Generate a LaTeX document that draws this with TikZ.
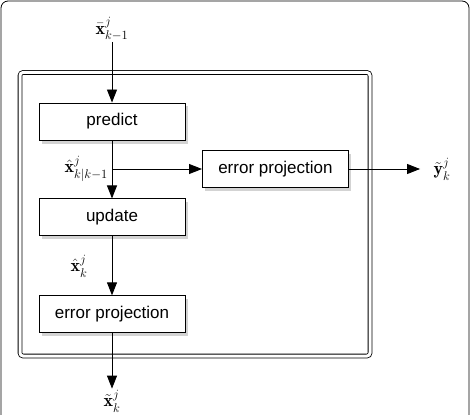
\RequirePackage{fix-cm}
\documentclass[tikz,border=0pt]{standalone}
\usepackage{amsmath,amssymb}
\usepackage{fontspec}
\setsansfont{Liberation Sans}
\usepackage{tikz}
\usetikzlibrary{positioning, arrows.meta, shadows}

\begin{document}
\begin{tikzpicture}[
    x=1pt, y=1pt,
    font=\fontsize{18}{21}\selectfont,
    node distance = 58pt and 17pt,
    block/.style = {draw, line width=0.9pt, fill=white, font=\fontsize{17}{20}\selectfont\sffamily, minimum width=146pt, minimum height=37pt, inner sep=0pt, drop shadow={shadow xshift=2.5pt, shadow yshift=-3.5pt, opacity=0.35}},
    arrow/.style = {-{Triangle[length=13pt, width=10pt]}, line width=0.9pt}
]
    \useasboundingbox (0,0) rectangle (470,-414);
    \draw[line width=0.8pt, rounded corners=7pt] (1,-1) rectangle (469,-440);
    \draw[line width=0.8pt, double, double distance=3pt, rounded corners=3pt] (20,-72.5) rectangle (370,-356);

    \node[block] (predict) at (112,-121.5) {predict};
    \node[block, below=of predict] (update) {update};
    \node[block, below=59pt of update] (errbot) {error projection};
    \coordinate (split) at (112,-169);
    \node[block, right=90pt of split] (errright) {error projection};

    \node[inner sep=1pt] (xin) at (112,-29) {$\bar{\mathbf{x}}^j_{k-1}$};
    \node[anchor=east, inner sep=1pt] (xpred) at (109,-169) {$\hat{\mathbf{x}}^j_{k|k-1}$};
    \node (xupd) at (79,-266) {$\hat{\mathbf{x}}^j_k$};
    \node (yout) at (442,-169) {$\tilde{\mathbf{y}}^j_k$};
    \node[inner sep=1pt] (xout) at (112,-401) {$\tilde{\mathbf{x}}^j_k$};

    \draw[arrow] (xin) -- (predict);
    \draw[arrow] (predict) -- (update);
    \draw[arrow] (split) -- (errright);
    \draw[arrow] (update) -- (errbot);
    \draw[arrow, shorten >=10pt] (errright) -- (yout);
    \draw[arrow] (errbot) -- (xout);
\end{tikzpicture}
\end{document}
